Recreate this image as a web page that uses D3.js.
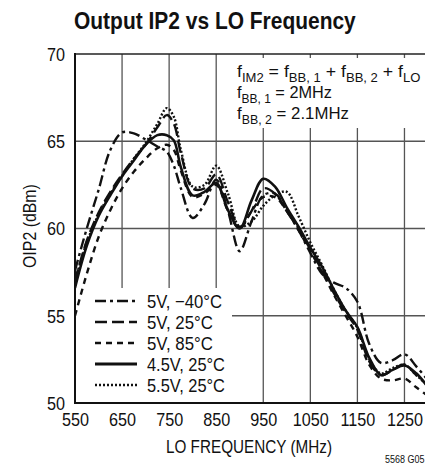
<!DOCTYPE html>
<html><head><meta charset="utf-8">
<script src="https://cdn.jsdelivr.net/npm/d3@7"></script>
<style>
body{margin:0;background:#fff;}
svg{display:block;}
text{font-family:"Liberation Sans",Arimo,Arial,sans-serif;fill:#111;}
</style></head>
<body><svg id="c" width="425" height="468"></svg>
<script>
const xTicks = [550,650,750,850,950,1050,1150,1250];
const yTicks = [50,55,60,65,70];
const freq = [550,575,600,625,650,675,700,725,745,760,775,800,825,850,875,900,925,950,975,1000,1025,1050,1075,1100,1125,1150,1175,1200,1225,1250,1275,1300];
const s_m40 = [57.6,60.0,62.2,64.5,65.5,65.45,65.1,64.7,64.4,63.6,62.3,60.6,61.4,62.8,61.0,58.7,60.4,61.9,62.0,61.0,59.9,58.6,57.4,56.9,56.6,55.8,53.4,52.3,52.45,52.8,52.1,51.3];
const s_25 = [57.0,59.3,60.9,62.1,63.1,64.0,64.8,65.8,66.5,66.0,64.3,62.3,62.3,63.1,61.5,60.1,61.0,62.3,62.0,61.0,60.0,58.8,57.6,56.3,55.2,54.2,52.4,51.6,51.9,52.2,51.6,51.0];
const s_85 = [55.0,57.4,59.5,61.05,62.3,63.25,64.0,64.6,64.8,64.5,63.3,61.8,62.0,62.5,61.0,60.0,61.0,61.8,61.8,61.0,59.9,58.7,57.5,56.2,55.0,53.8,52.2,51.4,51.3,51.4,50.9,50.4];
const s_45 = [56.6,59.0,60.7,61.9,63.0,63.9,64.8,65.35,65.35,65.05,63.5,61.9,62.1,62.6,61.05,60.0,61.6,62.85,62.4,61.2,60.1,58.9,57.8,56.5,55.3,54.35,52.6,51.6,51.9,52.15,51.7,50.9];
const s_55 = [57.0,59.2,60.8,62.0,63.0,64.0,64.9,66.0,66.9,66.4,64.5,62.4,62.5,63.6,62.0,60.1,60.4,61.3,61.9,62.1,60.7,59.2,57.9,56.5,55.3,54.3,52.5,51.7,52.0,52.2,51.6,51.0];
const seriesNames = ["5V, \u221240\u00B0C","5V, 25\u00B0C","5V, 85\u00B0C","4.5V, 25\u00B0C","5.5V, 25\u00B0C"];
const seriesVals = [s_m40,s_25,s_85,s_45,s_55];
const dashes = ["11,4,3,4","12,5","6,5",null,"2,2"];

const svg = d3.select("#c");
const x = d3.scaleLinear().domain([550,1300]).range([75,428]);
const y = d3.scaleLinear().domain([50,70]).range([403,54]);

svg.append("defs").append("clipPath").attr("id","clip").append("rect")
  .attr("x",75).attr("y",54).attr("width",353).attr("height",349);

function ftext(parent, x0, y0, size, anchor, target, build){
  const t = parent.append("text").attr("x",0).attr("y",0).attr("font-size",size);
  build(t);
  const w = t.node().getBBox().width;
  const k = target ? target / w : 1;
  const off = anchor==="middle" ? -w/2 : anchor==="end" ? -w : 0;
  t.attr("transform",`translate(${x0},${y0}) scale(${k},1) translate(${off},0)`);
  return t;
}
function plain(s){ return t=>t.text(s); }
function withSubs(parts){
  return t=>{
    let shift = 0;
    parts.forEach(p=>{
      const ts = t.append("tspan").text(p.t);
      if(p.s){ ts.attr("font-size",12.5).attr("dy",5-shift); shift = 5; }
      else { if(shift){ ts.attr("dy",-shift); shift = 0; } }
    });
  };
}

// grid
const g = svg.append("g");
g.selectAll("line.v").data(xTicks.slice(1)).join("line")
  .attr("x1",d=>x(d)).attr("x2",d=>x(d)).attr("y1",y(70)).attr("y2",y(50))
  .attr("stroke","#555").attr("stroke-width",1.3);
g.selectAll("line.h").data(yTicks.slice(1,4)).join("line")
  .attr("x1",x(550)).attr("x2",428).attr("y1",d=>y(d)).attr("y2",d=>y(d))
  .attr("stroke","#555").attr("stroke-width",1.3);
g.append("line").attr("x1",x(550)).attr("x2",428).attr("y1",y(70)).attr("y2",y(70))
  .attr("stroke","#222").attr("stroke-width",1.6);

// white boxes
svg.append("rect").attr("x",228).attr("y",58).attr("width",200).attr("height",70).attr("fill","#fff");
svg.append("rect").attr("x",76).attr("y",288).attr("width",156).attr("height",114).attr("fill","#fff");

// curves
const line = d3.line().x((d,i)=>x(freq[i])).y(d=>y(d)).curve(d3.curveCatmullRom.alpha(0.5));
const cg = svg.append("g").attr("clip-path","url(#clip)");
seriesVals.forEach((vals,k)=>{
  cg.append("path").attr("d",line(vals)).attr("fill","none")
    .attr("stroke","#111").attr("stroke-width",k===3?2.6:2.4)
    .attr("stroke-dasharray",dashes[k]);
});

// axes frame
svg.append("line").attr("x1",x(550)).attr("x2",x(550)).attr("y1",y(70)-1).attr("y2",y(50)+1).attr("stroke","#111").attr("stroke-width",2);
svg.append("line").attr("x1",x(550)-1).attr("x2",428).attr("y1",y(50)).attr("y2",y(50)).attr("stroke","#111").attr("stroke-width",2);

// axis labels via d3 axes
const xa = svg.append("g").attr("transform",`translate(0,${y(50)})`)
  .call(d3.axisBottom(x).tickValues(xTicks).tickFormat(d3.format("d")).tickSize(0).tickPadding(10));
xa.select(".domain").remove();
xa.attr("font-family",null).attr("font-size",null);
xa.selectAll("text").attr("font-size",18).attr("fill","#111").attr("transform","scale(0.9,1)");
const ya = svg.append("g").attr("transform",`translate(${x(550)},0)`)
  .call(d3.axisLeft(y).tickValues(yTicks).tickFormat(d3.format("d")).tickSize(0).tickPadding(11));
ya.select(".domain").remove();
ya.attr("font-family",null).attr("font-size",null);
ya.selectAll("text").attr("font-size",18).attr("fill","#111").attr("dy","0.36em").attr("transform","scale(0.9,1)");

// titles
ftext(svg,215,29,23,"middle",282,t=>t.attr("font-weight","bold").text("Output IP2 vs LO Frequency"));
ftext(svg,249,453,18,"middle",166,plain("LO FREQUENCY (MHz)"));
const yl = svg.append("g").attr("transform","translate(36,226) rotate(-90)");
ftext(yl,0,0,18,"middle",84,plain("OIP2 (dBm)"));
ftext(svg,425,463,10,"end",40,plain("5568 G05"));

// annotation
ftext(svg,237,77,17,"start",184,withSubs([{t:"f"},{t:"IM2",s:1},{t:" = f"},{t:"BB, 1",s:1},{t:" + f"},{t:"BB, 2",s:1},{t:" + f"},{t:"LO",s:1}]));
ftext(svg,237,98,17,"start",95,withSubs([{t:"f"},{t:"BB, 1",s:1},{t:" = 2MHz"}]));
ftext(svg,237,119,17,"start",112,withSubs([{t:"f"},{t:"BB, 2",s:1},{t:" = 2.1MHz"}]));

// legend
const ly = [301,322,343,364,385];
const lw = [75,66,66,78,78];
seriesNames.forEach((n,k)=>{
  svg.append("line").attr("x1",95).attr("x2",137).attr("y1",ly[k]).attr("y2",ly[k])
    .attr("stroke","#111").attr("stroke-width",k===3?2.8:2.6).attr("stroke-dasharray",dashes[k]);
  ftext(svg,147,ly[k]+6.5,18.5,"start",lw[k],plain(n));
});
</script></body></html>
